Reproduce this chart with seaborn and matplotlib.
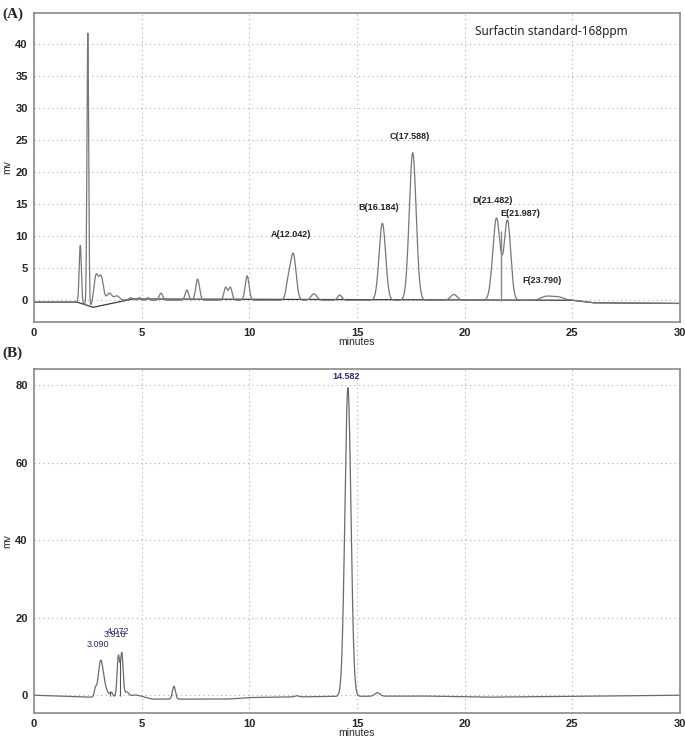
import numpy as np
import pandas as pd
import matplotlib
matplotlib.use("Agg")
import matplotlib.pyplot as plt
from matplotlib.ticker import MultipleLocator
import seaborn as sns

# ---- panel A: surfactin standard, peaks ----
rt_a = [2.15, 2.50, 2.88, 3.12, 3.50, 3.85, 4.50, 4.90, 5.30, 5.90, 7.10, 7.60,
        8.90, 9.12, 9.90, 11.80, 12.04, 13.00, 14.20, 16.18, 17.59, 19.50,
        21.48, 21.99, 23.80, 24.35]
height_a = [9.0, 42.5, 4.3, 3.8, 1.2, 0.7, 0.3, 0.4, 0.4, 1.1, 1.6, 3.3,
            2.0, 2.0, 3.8, 2.5, 7.2, 1.0, 0.8, 12.0, 23.0, 0.9,
            12.8, 12.4, 0.6, 0.5]
width_a = [0.05, 0.04, 0.10, 0.10, 0.12, 0.12, 0.08, 0.06, 0.06, 0.08, 0.08, 0.09,
           0.08, 0.08, 0.09, 0.10, 0.13, 0.13, 0.10, 0.15, 0.16, 0.15,
           0.17, 0.15, 0.25, 0.25]
drift_x_a = [0, 2.0, 2.3, 2.65, 3.0, 4.5, 5.0, 25.0, 26.0, 30.0]
drift_y_a = [-0.3, -0.3, -0.6, -1.0, -0.2, 0.1, 0.0, 0.0, -0.4, -0.5]
# integration baseline drawn by the software
ibase_x_a = [0, 2.0, 2.75, 4.6, 25.0, 26.0, 30.0]
ibase_y_a = [-0.3, -0.3, -1.1, 0.2, 0.0, -0.4, -0.5]
labels_a = ["A(12.042)", "B(16.184)", "C(17.588)", "D(21.482)", "E(21.987)", "F(23.790)"]
label_x_a = [11.95, 16.0, 17.45, 21.3, 22.6, 23.6]
label_y_a = [10.3, 14.5, 25.6, 15.5, 13.6, 3.1]

# ---- panel B: sample ----
rt_b = [2.85, 3.09, 3.25, 3.60, 3.92, 4.08, 4.30, 4.70, 6.50, 12.20, 14.58, 15.95]
height_b = [1.8, 8.0, 2.5, 1.0, 10.4, 11.0, 1.2, 0.4, 3.3, 0.3, 79.6, 0.9]
width_b = [0.05, 0.11, 0.15, 0.06, 0.06, 0.06, 0.10, 0.15, 0.07, 0.10, 0.14, 0.12]
drift_x_b = [0, 2.5, 5.0, 5.5, 9.0, 10.0, 14.0, 18.0, 21.0, 25.0, 30.0]
drift_y_b = [0.0, -0.5, -0.3, -1.0, -1.0, -0.6, -0.3, -0.2, -0.5, -0.3, 0.0]
labels_b = ["3.090", "3.916", "4.072", "14.582"]
label_x_b = [2.97, 3.76, 3.92, 14.5]
label_y_b = [13.2, 15.7, 16.5, 82.3]

x = np.linspace(0, 30, 6001)


def trace(rt, h, w, dx, dy):
    y = np.interp(x, dx, dy)
    for c, a, s in zip(rt, h, w):
        y = y + a * np.exp(-0.5 * ((x - c) / s) ** 2)
    return pd.DataFrame({"minutes": x, "mv": y})


sns.set_style("white")
plt.rcParams["font.family"] = ["Liberation Sans", "DejaVu Sans"]

fig = plt.figure(figsize=(6.85, 7.42), dpi=100)
ax_a = fig.add_axes([0.0496, 0.566, 0.943, 0.4165])
ax_b = fig.add_axes([0.0496, 0.039, 0.943, 0.4636])

df_a = trace(rt_a, height_a, width_a, drift_x_a, drift_y_a)
df_b = trace(rt_b, height_b, width_b, drift_x_b, drift_y_b)

sns.lineplot(data=pd.DataFrame({"minutes": ibase_x_a, "mv": ibase_y_a}),
             x="minutes", y="mv", ax=ax_a, color="#3a3a3a", lw=0.9)
sns.lineplot(data=df_a, x="minutes", y="mv", ax=ax_a, color="#777777", lw=0.9)
sns.lineplot(data=df_b, x="minutes", y="mv", ax=ax_b, color="#6a6a6a", lw=0.9)

# drop lines between overlapping peaks
ax_a.vlines(21.68, -0.1, 10.8, color="#888888", lw=1.0)
ax_b.vlines([3.55, 4.0], [-0.3, -0.3], [1.0, 9.0], color="#555555", lw=0.8)

for t, lx, ly in zip(labels_a, label_x_a, label_y_a):
    ax_a.text(lx, ly, t, ha="center", va="center", fontsize=6.5,
              fontweight="bold", color="#222222")
ax_a.text(20.5, 41.9, "Surfactin standard-168ppm", ha="left", va="center",
          fontsize=8.5, color="#222222", family=["Noto Sans", "DejaVu Sans"])

for t, lx, ly in zip(labels_b, label_x_b, label_y_b):
    ax_b.text(lx, ly, t, ha="center", va="center", fontsize=6.5,
              color="#2b2b7a", fontweight="bold" if t == "14.582" else "normal")

for ax, ylim, ymaj, ymin in [(ax_a, (-3.4, 44.8), 5, 1), (ax_b, (-4.6, 84.1), 20, 2)]:
    ax.set_xlim(0, 30)
    ax.set_ylim(*ylim)
    ax.xaxis.set_major_locator(MultipleLocator(5))
    ax.xaxis.set_minor_locator(MultipleLocator(1))
    ax.yaxis.set_major_locator(MultipleLocator(ymaj))
    ax.yaxis.set_minor_locator(MultipleLocator(ymin))
    ax.grid(True, which="major", ls=(0, (1, 3)), color="#b0b0b0", lw=0.8)
    ax.tick_params(which="both", direction="out", color="#555555", labelsize=8,
                   pad=1.5)
    ax.tick_params(which="major", length=3, width=0.8)
    ax.tick_params(which="minor", length=1.5, width=0.6)
    for lab in ax.get_xticklabels() + ax.get_yticklabels():
        lab.set_fontweight("bold")
    for s in ax.spines.values():
        s.set_color("#8a8a8a")
        s.set_linewidth(1.2)
    ax.set_xlabel("minutes", fontsize=7.5, labelpad=-1)
    ax.set_ylabel("mv", fontsize=7.5, labelpad=2)

fig.text(0.003, 0.981, "(A)", fontsize=11, fontweight="bold",
         family=["Liberation Serif", "DejaVu Serif"], ha="left", va="center")
fig.text(0.003, 0.524, "(B)", fontsize=11, fontweight="bold",
         family=["Liberation Serif", "DejaVu Serif"], ha="left", va="center")

fig.savefig("out.png", dpi=100)
